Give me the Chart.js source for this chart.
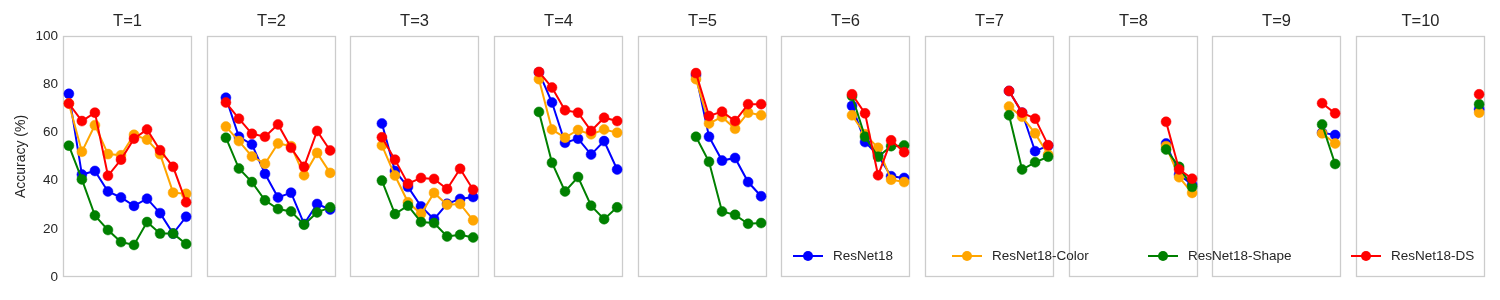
<!DOCTYPE html>
<html>
<head>
<meta charset="utf-8">
<script src="https://cdn.jsdelivr.net/npm/chart.js@4.4.1/dist/chart.umd.min.js"></script>
<style>
  html, body { margin: 0; padding: 0; background: #fff; }
  #fig { position: relative; width: 1500px; height: 300px; overflow: hidden; font-family: "Liberation Sans", Arial, sans-serif; }
  #fig canvas { position: absolute; top: 0; }
  .leg { position: absolute; top: 247px; height: 18px; white-space: nowrap; color: #262626; font-size: 13.5px; line-height: 18px; }
  .leg .ln { position: absolute; left: 0; top: 8px; width: 30px; height: 2px; }
  .leg .mk { position: absolute; left: 10px; top: 4px; width: 10px; height: 10px; border-radius: 50%; }
  .leg .tx { position: absolute; left: 40px; top: 0; }
</style>
</head>
<body>
<div id="fig"></div>
<script>
const panelTitles = ['T=1', 'T=2', 'T=3', 'T=4', 'T=5', 'T=6', 'T=7', 'T=8', 'T=9', 'T=10']
const seriesNames = ['ResNet18', 'ResNet18-Color', 'ResNet18-Shape', 'ResNet18-DS']
const yTicks = [0, 20, 40, 60, 80, 100]

// one list per panel; panel T=k starts at task step k
const resnet18 = [
  [76, 42.5, 44, 35.5, 33, 29.5, 32.5, 26.5, 18, 25],
  [74.4, 58.2, 55, 42.8, 33, 35, 22, 30.3, 28],
  [63.7, 44, 37.4, 29.3, 24, 30.4, 32.4, 33.2],
  [84.9, 72.4, 55.7, 57.4, 50.8, 56.4, 44.6],
  [83.8, 58.2, 48.3, 49.4, 39.4, 33.5],
  [71, 56, 50.5, 41.8, 41.1],
  [77.2, 68.2, 52.2, 54.5],
  [55.4, 42.5, 38.3],
  [59.9, 58.9],
  [69.6]
]
const resnet18Color = [
  [72, 52, 63, 51, 50.5, 59, 57, 51, 35, 34.5],
  [62.4, 56.4, 50, 47, 55.4, 54.3, 42.2, 51.5, 43.2],
  [54.6, 42.1, 31, 26.2, 34.9, 30, 30.3, 23.5],
  [82.1, 61.2, 57.8, 61, 59.2, 61.2, 59.9],
  [82.1, 63.7, 66.4, 61.5, 68.2, 67.1],
  [67.1, 59.2, 53.6, 40.4, 39.4],
  [70.7, 66.5, 59.6, 50.8],
  [54.3, 41.4, 34.9],
  [59.6, 55.4],
  [68.2]
]
const resnet18Shape = [
  [54.5, 40.5, 25.5, 19.5, 14.5, 13.3, 22.8, 18, 18, 13.7],
  [57.8, 45, 39.4, 31.8, 28.2, 27.2, 21.7, 26.8, 28.9],
  [40, 26.1, 29.6, 22.8, 22.4, 16.8, 17.5, 16.4],
  [68.5, 47.4, 35.5, 41.5, 29.6, 24, 28.9],
  [58.2, 47.8, 27.2, 25.8, 22.1, 22.4],
  [75.1, 58.2, 49.9, 54.3, 54.6],
  [67.1, 44.6, 47.6, 49.9],
  [52.9, 45.7, 37.4],
  [63.3, 46.9],
  [71.7]
]
const resnet18DS = [
  [72, 64.7, 68.2, 42, 48.7, 57.4, 61.2, 52.6, 45.7, 31],
  [72.4, 65.7, 59.4, 58.2, 63.3, 53.6, 45.7, 60.6, 52.5],
  [58, 48.7, 38.7, 41.1, 40.7, 36.5, 44.9, 36.2],
  [85.1, 78.6, 69.2, 68.2, 60.6, 66.1, 64.7],
  [84.6, 66.8, 68.6, 64.7, 71.7, 71.7],
  [75.8, 67.9, 42.2, 56.7, 51.8],
  [77.2, 68.2, 65.7, 54.7],
  [64.4, 44.6, 40.8],
  [72.1, 67.9],
  [75.8]
]

const allSeries = [resnet18, resnet18Color, resnet18Shape, resnet18DS]
const colors = ['#0000ff', '#ffa500', '#008000', '#ff0000']

Chart.defaults.font.family = '"Liberation Sans", Arial, sans-serif'
Chart.defaults.color = '#262626'

const panelDeco = {
  id: 'panelDeco',
  beforeDatasetsDraw(chart) {
    const { ctx, chartArea: a } = chart
    ctx.save()
    ctx.strokeStyle = '#cccccc'
    ctx.lineWidth = 1.3
    ctx.strokeRect(a.left + 0.5, a.top + 0.5, a.width - 1, a.height - 1)
    ctx.restore()
  },
  afterDraw(chart, args, opts) {
    const { ctx, chartArea: a } = chart
    ctx.save()
    ctx.font = '16.5px "Liberation Sans", Arial, sans-serif'
    ctx.fillStyle = '#262626'
    ctx.textAlign = 'center'
    ctx.textBaseline = 'middle'
    ctx.fillText(opts.text, (a.left + a.right) / 2, 21)
    ctx.restore()
  }
}

const fig = document.getElementById('fig')
const panelW = 129
const step = 143.67

panelTitles.forEach((title, p) => {
  const first = p === 0
  const panelLeft = 63 + p * step
  const padSide = 8
  const canvas = document.createElement('canvas')
  const cw = first ? panelLeft + panelW + padSide : panelW + 2 * padSide
  canvas.width = Math.round(cw)
  canvas.height = 300
  canvas.style.left = (first ? 0 : panelLeft - padSide) + 'px'
  fig.appendChild(canvas)

  const datasets = allSeries.map((series, s) => ({
    label: seriesNames[s],
    data: series[p].map((v, j) => ({ x: p + j, y: v })),
    borderColor: colors[s],
    backgroundColor: colors[s],
    pointBackgroundColor: colors[s],
    pointBorderColor: colors[s],
    borderWidth: 2,
    pointRadius: 5,
    pointBorderWidth: 0.5,
    pointHoverRadius: 5,
    tension: 0,
    clip: false,
    order: 3 - s
  }))

  new Chart(canvas.getContext('2d'), {
    type: 'line',
    data: { datasets },
    options: {
      responsive: false,
      animation: false,
      events: [],
      layout: { padding: { left: first ? 0 : padSide, right: padSide, top: 36, bottom: 23 } },
      plugins: {
        legend: { display: false },
        tooltip: { enabled: false },
        panelDeco: { text: title }
      },
      scales: {
        x: { type: 'linear', min: -0.45, max: 9.45, display: false },
        y: {
          min: 0, max: 100,
          display: first,
          afterFit(scale) { if (first) scale.width = panelLeft },
          grid: { display: false, drawTicks: false, tickLength: 0 },
          border: { display: false },
          ticks: { stepSize: 20, padding: 5, font: { size: 13.5 }, color: '#262626',
            callback: v => yTicks.includes(v) ? String(v) : '' },
          title: { display: true, text: 'Accuracy (%)', font: { size: 14 }, color: '#262626', padding: { top: 13, bottom: 0 } }
        }
      }
    },
    plugins: [panelDeco]
  })
})

// figure-level legend along the bottom
const legendLeft = [793, 952, 1148, 1351]
seriesNames.forEach((name, s) => {
  const item = document.createElement('div')
  item.className = 'leg'
  item.style.left = legendLeft[s] + 'px'
  item.innerHTML = '<div class="ln" style="background:' + colors[s] + '"></div>' +
    '<div class="mk" style="background:' + colors[s] + '"></div>' +
    '<span class="tx">' + name + '</span>'
  fig.appendChild(item)
})
</script>
</body>
</html>
